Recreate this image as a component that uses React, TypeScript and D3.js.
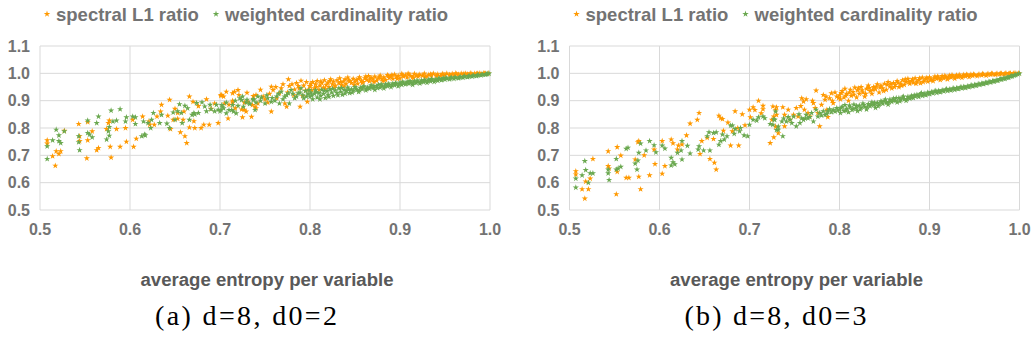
import React from "react";
import * as d3 from "d3";

// ---------- DATA ----------
type P = [number, number];

const xTicks = [0.5, 0.6, 0.7, 0.8, 0.9, 1.0];
const yTicks = [0.5, 0.6, 0.7, 0.8, 0.9, 1.0, 1.1];
const seriesNames = ["spectral L1 ratio", "weighted cardinality ratio"];
const seriesColors = ["#ff9900", "#6aa84f"];
const xTitle = "average entropy per variable";
const captions = ["(a) d=8, d0=2", "(b) d=8, d0=3"];

// panel (a) spectral L1 ratio
const aSpectral: P[] = [
  [0.508,0.755],[0.508,0.743],[0.514,0.697],[0.517,0.662],[0.518,0.715],[0.521,0.705],[0.523,0.715],[0.527,0.79],[0.543,0.815],[0.544,0.77],[0.544,0.752],[0.552,0.689],[0.553,0.755],[0.553,0.822],[0.558,0.788],[0.563,0.719],[0.565,0.727],[0.574,0.796],[0.576,0.818],[0.577,0.827],[0.578,0.731],[0.579,0.692],[0.585,0.796],[0.589,0.731],[0.595,0.8],[0.596,0.75],[0.604,0.731],[0.603,0.83],[0.607,0.761],[0.614,0.842],[0.621,0.824],[0.622,0.812],[0.627,0.812],[0.63,0.842],[0.635,0.885],[0.642,0.845],[0.644,0.903],[0.645,0.796],[0.648,0.83],[0.653,0.834],[0.653,0.855],[0.656,0.784],[0.661,0.77],[0.663,0.745],[0.659,0.83],[0.666,0.915],[0.666,0.802],[0.67,0.896],[0.672,0.8],[0.671,0.825],[0.679,0.8],[0.682,0.812],[0.685,0.905],[0.688,0.812],[0.698,0.818],[0.701,0.918],
  [0.634,0.86],[0.65,0.87],[0.676,0.88],[0.69,0.87],[0.694,0.89],[0.66,0.86],
  [0.701,0.921],[0.705,0.89],[0.709,0.835],[0.714,0.927],[0.716,0.933],[0.714,0.9],[0.724,0.868],[0.727,0.893],[0.729,0.86],[0.735,0.841],[0.739,0.878],[0.74,0.921],[0.742,0.89],[0.75,0.905],[0.753,0.893],[0.757,0.951],[0.757,0.86],[0.759,0.939],[0.763,0.909],[0.766,0.927],[0.772,0.89],[0.776,0.978],[0.777,0.954],[0.774,0.878],[0.783,0.941],[0.787,0.954],[0.789,0.878],[0.79,0.973],[0.792,0.917],[0.795,0.937],[0.797,0.896],[0.8,0.954],
  [0.702,0.921],[0.704,0.915],[0.707,0.933],[0.71,0.885],[0.714,0.893],[0.717,0.872],[0.72,0.939],[0.721,0.921],[0.725,0.839],[0.727,0.867],[0.73,0.929],[0.731,0.896],[0.736,0.884],[0.737,0.917],[0.74,0.872],
  [0.745,0.94],[0.748,0.915],[0.755,0.925],[0.762,0.95],[0.768,0.945],[0.77,0.96],[0.775,0.93],[0.78,0.96],[0.782,0.92],[0.785,0.965],[0.788,0.945],[0.793,0.955],[0.796,0.968],[0.798,0.94],
  [0.8,0.952],[0.802,0.938],[0.803,0.968],[0.805,0.945],[0.806,0.96],[0.808,0.972],[0.81,0.94],[0.811,0.955],[0.813,0.965],[0.815,0.948],[0.816,0.975],[0.818,0.958],[0.82,0.966],[0.821,0.95],[0.823,0.978],[0.825,0.96],[0.826,0.97],[0.828,0.955],[0.83,0.975],[0.832,0.964],[0.833,0.982],[0.835,0.958],[0.837,0.97],[0.839,0.978],[0.84,0.962],[0.842,0.985],[0.844,0.972],[0.846,0.965],[0.848,0.98],[0.85,0.97],[0.852,0.976],[0.853,0.962],[0.855,0.986],[0.857,0.974],[0.859,0.968],[0.861,0.982],[0.863,0.976],[0.865,0.99],[0.866,0.971],[0.868,0.984],[0.87,0.978],[0.872,0.988],[0.874,0.973],[0.876,0.982],[0.878,0.992],[0.88,0.979],[0.882,0.986],[0.884,0.976],[0.886,0.994],[0.888,0.983],[0.89,0.989],[0.892,0.98],[0.894,0.996],[0.896,0.986],[0.898,0.991],[0.9,0.982],[0.902,0.998],[0.904,0.988],[0.906,0.993],[0.908,0.985],[0.91,0.996],[0.912,0.99],[0.914,0.986],[0.916,0.998],[0.918,0.992],[0.92,0.988],[0.922,0.996],[0.925,0.991],[0.927,0.999],[0.93,0.989],[0.932,0.995],[0.935,0.992],[0.937,0.999],[0.94,0.993],[0.942,0.997],[0.945,0.991],[0.947,0.998],[0.95,0.994],[0.952,0.999],[0.955,0.995],[0.958,0.998],[0.96,0.993],[0.962,1.0],[0.965,0.996],[0.968,0.999],[0.97,0.995],[0.973,0.999],[0.975,0.997],[0.978,1.0],[0.98,0.996],[0.983,0.999],[0.985,0.998],[0.988,1.0],[0.99,0.998],[0.993,1.0],[0.995,0.999],[0.998,1.0],
  [0.801,0.962],[0.807,0.95],[0.812,0.97],[0.817,0.944],[0.822,0.972],[0.827,0.948],[0.834,0.968],[0.838,0.953],[0.843,0.975],[0.849,0.958],[0.854,0.98],[0.858,0.965],[0.862,0.988],[0.867,0.98],[0.871,0.968],[0.877,0.986],[0.881,0.972],[0.887,0.99],[0.891,0.994],[0.897,0.98],[0.903,0.992],[0.909,0.999],[0.915,0.983],[0.921,0.993],[0.928,0.987],[0.934,0.997],[0.941,0.99],[0.948,0.995],[0.956,0.992],[0.963,0.997],[0.971,0.998],[0.979,0.998],[0.986,0.999],[0.994,0.999],
];

// panel (a) weighted cardinality ratio
const aWeighted: P[] = [
  [0.508,0.687],[0.508,0.733],[0.514,0.755],[0.518,0.794],[0.521,0.773],[0.521,0.752],[0.523,0.745],[0.527,0.788],[0.543,0.748],[0.543,0.77],[0.544,0.719],[0.553,0.827],[0.553,0.782],[0.555,0.776],[0.558,0.766],[0.563,0.818],[0.565,0.842],[0.574,0.758],[0.576,0.788],[0.577,0.772],[0.577,0.804],[0.579,0.864],[0.581,0.824],[0.585,0.827],[0.589,0.869],[0.595,0.824],[0.596,0.839],[0.603,0.842],[0.606,0.839],[0.606,0.815],[0.615,0.824],[0.613,0.77],[0.616,0.776],[0.617,0.773],[0.62,0.818],[0.624,0.83],[0.626,0.855],[0.623,0.8],[0.635,0.848],[0.633,0.818],[0.641,0.816],[0.644,0.8],[0.648,0.857],[0.65,0.83],[0.653,0.861],[0.655,0.887],[0.657,0.855],[0.658,0.818],[0.661,0.881],[0.664,0.872],[0.666,0.83],[0.669,0.848],[0.671,0.855],[0.672,0.85],[0.674,0.891],[0.676,0.855],[0.68,0.894],[0.683,0.879],[0.685,0.861],[0.689,0.885],[0.69,0.869],[0.694,0.861],[0.696,0.885],[0.698,0.867],[0.7,0.861],
  [0.701,0.866],[0.703,0.878],[0.707,0.854],[0.713,0.866],[0.714,0.884],[0.718,0.854],[0.724,0.902],[0.726,0.878],[0.729,0.893],[0.733,0.888],[0.737,0.902],[0.739,0.866],[0.74,0.893],[0.742,0.915],[0.746,0.912],[0.75,0.89],[0.753,0.909],[0.757,0.896],[0.763,0.915],[0.766,0.89],[0.768,0.933],[0.772,0.915],[0.776,0.927],[0.777,0.89],[0.779,0.939],[0.783,0.909],[0.787,0.927],[0.79,0.945],[0.793,0.909],[0.796,0.915],[0.799,0.939],
  [0.702,0.884],[0.704,0.872],[0.707,0.893],[0.71,0.866],[0.715,0.86],[0.717,0.9],[0.72,0.881],[0.722,0.909],[0.725,0.915],[0.73,0.903],[0.733,0.89],[0.737,0.906],
  [0.745,0.9],[0.752,0.92],[0.758,0.91],[0.761,0.9],[0.765,0.925],[0.77,0.905],[0.774,0.92],[0.781,0.925],[0.785,0.915],[0.789,0.93],[0.792,0.92],[0.795,0.935],[0.798,0.925],
  [0.8,0.915],[0.801,0.93],[0.803,0.905],[0.805,0.925],[0.806,0.938],[0.808,0.912],[0.81,0.928],[0.812,0.918],[0.813,0.94],[0.815,0.925],[0.817,0.91],[0.819,0.935],[0.82,0.922],[0.822,0.942],[0.824,0.93],[0.826,0.918],[0.828,0.938],[0.83,0.928],[0.832,0.945],[0.834,0.933],[0.836,0.922],[0.838,0.94],[0.84,0.935],[0.842,0.948],[0.844,0.928],[0.846,0.942],[0.848,0.937],[0.85,0.95],[0.852,0.94],[0.854,0.932],[0.856,0.947],[0.858,0.942],[0.86,0.953],[0.862,0.938],[0.864,0.948],[0.866,0.944],[0.868,0.956],[0.87,0.946],[0.872,0.94],[0.874,0.952],[0.876,0.958],[0.878,0.948],[0.88,0.955],[0.882,0.945],[0.884,0.96],[0.886,0.953],[0.888,0.958],[0.89,0.95],[0.892,0.963],[0.894,0.956],[0.896,0.961],[0.898,0.953],[0.9,0.966],[0.902,0.958],[0.904,0.964],[0.906,0.96],[0.908,0.969],[0.91,0.962],[0.912,0.967],[0.914,0.958],[0.916,0.971],[0.918,0.965],[0.92,0.97],[0.922,0.963],[0.924,0.974],[0.926,0.968],[0.928,0.972],[0.93,0.966],[0.932,0.977],[0.934,0.971],[0.936,0.975],[0.938,0.969],[0.94,0.978],[0.942,0.973],[0.944,0.979],[0.946,0.975],[0.948,0.982],[0.95,0.977],[0.952,0.981],[0.955,0.978],[0.957,0.985],[0.96,0.98],[0.962,0.984],[0.965,0.982],[0.967,0.987],[0.97,0.984],[0.972,0.989],[0.975,0.986],[0.977,0.99],[0.98,0.988],[0.982,0.992],[0.985,0.99],[0.987,0.994],[0.99,0.993],[0.992,0.996],[0.995,0.995],[0.997,0.998],[0.999,0.999],
  [0.802,0.92],[0.807,0.932],[0.811,0.905],[0.816,0.936],[0.821,0.914],[0.825,0.944],[0.831,0.92],[0.835,0.946],[0.839,0.926],[0.843,0.94],[0.847,0.93],[0.851,0.944],[0.855,0.938],[0.859,0.95],[0.863,0.943],[0.867,0.951],[0.871,0.954],[0.875,0.946],[0.879,0.96],[0.883,0.952],[0.887,0.962],[0.891,0.957],[0.895,0.965],[0.899,0.96],[0.903,0.969],[0.907,0.963],[0.911,0.972],[0.915,0.966],[0.919,0.974],[0.923,0.968],[0.927,0.976],[0.931,0.972],[0.935,0.979],[0.939,0.975],[0.943,0.981],[0.947,0.978],[0.951,0.984],[0.956,0.982],[0.961,0.986],[0.966,0.985],[0.971,0.988],[0.976,0.989],[0.981,0.991],[0.986,0.993],[0.991,0.995],[0.996,0.997],
];

// panel (b) spectral L1 ratio
const bSpectral: P[] = [
  [0.507,0.642],[0.507,0.63],[0.514,0.576],[0.517,0.542],[0.518,0.604],[0.521,0.576],[0.523,0.615],[0.526,0.687],[0.543,0.715],[0.543,0.661],[0.544,0.652],[0.552,0.558],[0.553,0.64],[0.553,0.73],[0.557,0.699],[0.563,0.618],[0.566,0.618],[0.573,0.685],[0.576,0.748],[0.577,0.752],[0.577,0.622],[0.579,0.576],[0.583,0.7],[0.589,0.627],[0.594,0.721],[0.595,0.668],[0.603,0.633],[0.603,0.752],[0.606,0.661],[0.613,0.758],[0.615,0.744],[0.62,0.721],[0.621,0.736],[0.625,0.74],[0.63,0.773],[0.634,0.816],[0.642,0.83],[0.644,0.855],[0.645,0.705],[0.647,0.752],[0.653,0.764],[0.656,0.687],[0.661,0.673],[0.663,0.648],[0.666,0.845],[0.668,0.836],[0.67,0.833],[0.671,0.79],[0.679,0.736],[0.681,0.788],[0.684,0.861],[0.688,0.736],[0.695,0.81],[0.7,0.867],
  [0.687,0.8],[0.692,0.85],[0.676,0.82],[0.66,0.76],
  [0.701,0.839],[0.704,0.876],[0.706,0.866],[0.71,0.9],[0.715,0.881],[0.715,0.869],[0.713,0.854],[0.725,0.83],[0.729,0.866],[0.73,0.876],[0.729,0.805],[0.723,0.745],[0.727,0.766],[0.732,0.781],
  [0.726,0.879],[0.727,0.842],[0.73,0.848],[0.737,0.876],[0.739,0.848],[0.739,0.806],[0.743,0.867],[0.745,0.83],[0.749,0.848],[0.752,0.873],[0.754,0.842],[0.758,0.909],[0.76,0.897],[0.761,0.867],[0.763,0.905],[0.765,0.855],[0.767,0.842],[0.771,0.891],[0.773,0.873],[0.774,0.937],[0.776,0.855],[0.778,0.806],[0.78,0.885],[0.782,0.921],[0.784,0.903],[0.786,0.867],[0.787,0.84],[0.789,0.909],[0.791,0.927],[0.793,0.891],[0.797,0.915],
  [0.792,0.9],[0.795,0.93],[0.799,0.91],[0.785,0.915],[0.77,0.9],[0.757,0.88],
  [0.8,0.92],[0.801,0.905],[0.803,0.935],[0.805,0.912],[0.806,0.944],[0.808,0.925],[0.81,0.9],[0.812,0.94],[0.813,0.918],[0.815,0.932],[0.817,0.948],[0.819,0.912],[0.82,0.938],[0.822,0.925],[0.824,0.95],[0.826,0.93],[0.828,0.915],[0.83,0.944],[0.832,0.955],[0.834,0.935],[0.836,0.925],[0.838,0.95],[0.84,0.942],[0.842,0.96],[0.844,0.93],[0.846,0.955],[0.848,0.945],[0.85,0.962],[0.852,0.94],[0.854,0.968],[0.856,0.952],[0.858,0.945],[0.86,0.965],[0.862,0.958],[0.864,0.972],[0.866,0.95],[0.868,0.962],[0.87,0.975],[0.872,0.958],[0.874,0.968],[0.876,0.98],[0.878,0.962],[0.88,0.972],[0.882,0.966],[0.884,0.982],[0.886,0.97],[0.888,0.976],[0.89,0.964],[0.892,0.985],[0.894,0.974],[0.896,0.98],[0.898,0.97],[0.9,0.986],[0.902,0.977],[0.904,0.972],[0.906,0.988],[0.908,0.98],[0.91,0.985],[0.912,0.976],[0.914,0.99],[0.916,0.982],[0.918,0.987],[0.92,0.978],[0.922,0.992],[0.924,0.985],[0.926,0.989],[0.928,0.981],[0.93,0.993],[0.932,0.987],[0.934,0.99],[0.936,0.984],[0.938,0.995],[0.94,0.989],[0.942,0.993],[0.944,0.987],[0.946,0.996],[0.948,0.991],[0.95,0.994],[0.953,0.99],[0.955,0.997],[0.958,0.993],[0.96,0.996],[0.963,0.992],[0.965,0.998],[0.968,0.995],[0.97,0.998],[0.973,0.995],[0.975,0.999],[0.978,0.997],[0.98,0.999],[0.983,0.997],[0.985,1.0],[0.988,0.998],[0.99,1.0],[0.993,0.999],[0.996,1.0],[0.999,1.0],
  [0.802,0.928],[0.807,0.918],[0.811,0.93],[0.816,0.922],[0.821,0.945],[0.825,0.938],[0.829,0.925],[0.833,0.946],[0.837,0.94],[0.841,0.952],[0.845,0.948],[0.849,0.935],[0.853,0.958],[0.857,0.962],[0.861,0.95],[0.865,0.966],[0.869,0.955],[0.873,0.978],[0.877,0.97],[0.881,0.978],[0.885,0.962],[0.889,0.982],[0.893,0.968],[0.897,0.984],[0.901,0.975],[0.905,0.982],[0.909,0.988],[0.913,0.982],[0.917,0.991],[0.921,0.985],[0.925,0.994],[0.929,0.988],[0.933,0.995],[0.937,0.99],[0.941,0.996],[0.945,0.992],[0.949,0.997],[0.954,0.994],[0.959,0.998],[0.964,0.996],[0.969,0.999],[0.974,0.997],[0.979,0.999],[0.984,0.999],[0.989,0.999],[0.994,1.0],
];

// panel (b) weighted cardinality ratio
const bWeighted: P[] = [
  [0.507,0.582],[0.507,0.615],[0.514,0.627],[0.517,0.679],[0.518,0.646],[0.521,0.6],[0.523,0.634],[0.526,0.634],[0.543,0.634],[0.543,0.648],[0.544,0.61],[0.552,0.687],[0.552,0.648],[0.554,0.652],[0.557,0.658],[0.563,0.724],[0.565,0.728],[0.573,0.67],[0.575,0.648],[0.576,0.681],[0.577,0.709],[0.579,0.743],[0.585,0.718],[0.589,0.752],[0.594,0.737],[0.596,0.711],[0.603,0.736],[0.606,0.725],[0.613,0.691],[0.613,0.663],[0.615,0.675],[0.617,0.667],[0.62,0.709],[0.624,0.718],[0.625,0.685],[0.625,0.752],[0.631,0.735],[0.634,0.707],[0.643,0.721],[0.644,0.733],[0.649,0.718],[0.653,0.77],[0.655,0.784],[0.656,0.718],[0.66,0.782],[0.663,0.784],[0.666,0.739],[0.668,0.752],[0.67,0.776],[0.672,0.758],[0.675,0.77],[0.679,0.809],[0.681,0.809],[0.683,0.779],[0.684,0.796],[0.689,0.788],[0.69,0.8],[0.694,0.773],[0.698,0.77],[0.7,0.812],
  [0.726,0.812],[0.728,0.83],[0.732,0.794],[0.736,0.824],[0.737,0.77],[0.741,0.824],[0.743,0.84],[0.747,0.818],[0.749,0.842],[0.752,0.806],[0.756,0.818],[0.758,0.836],[0.76,0.83],[0.763,0.848],[0.765,0.836],[0.767,0.84],[0.771,0.824],[0.774,0.867],[0.776,0.842],[0.778,0.855],[0.782,0.861],[0.784,0.848],[0.787,0.861],[0.789,0.869],[0.793,0.867],[0.797,0.873],
  [0.704,0.83],[0.708,0.827],[0.71,0.839],[0.715,0.842],[0.717,0.836],[0.723,0.815],[0.727,0.832],[0.729,0.86],[0.73,0.793],[0.732,0.805],
  [0.738,0.835],[0.745,0.83],[0.755,0.85],[0.762,0.835],[0.769,0.855],[0.78,0.846],[0.786,0.852],[0.791,0.858],[0.795,0.86],[0.798,0.865],
  [0.8,0.868],[0.801,0.855],[0.803,0.878],[0.805,0.862],[0.806,0.884],[0.808,0.87],[0.81,0.858],[0.812,0.876],[0.814,0.866],[0.816,0.886],[0.818,0.872],[0.82,0.862],[0.822,0.882],[0.824,0.874],[0.826,0.89],[0.828,0.878],[0.83,0.868],[0.832,0.888],[0.834,0.88],[0.836,0.894],[0.838,0.884],[0.84,0.874],[0.842,0.892],[0.844,0.886],[0.846,0.898],[0.848,0.889],[0.85,0.9],[0.852,0.892],[0.854,0.886],[0.856,0.904],[0.858,0.896],[0.86,0.908],[0.862,0.9],[0.864,0.894],[0.866,0.91],[0.868,0.903],[0.87,0.912],[0.872,0.905],[0.874,0.9],[0.876,0.914],[0.878,0.908],[0.88,0.918],[0.882,0.91],[0.884,0.916],[0.886,0.922],[0.888,0.914],[0.89,0.924],[0.892,0.918],[0.894,0.926],[0.896,0.92],[0.898,0.93],[0.9,0.924],[0.902,0.932],[0.904,0.927],[0.906,0.934],[0.908,0.929],[0.91,0.936],[0.912,0.931],[0.914,0.938],[0.916,0.934],[0.918,0.94],[0.92,0.936],[0.922,0.942],[0.924,0.938],[0.926,0.944],[0.928,0.94],[0.93,0.946],[0.932,0.943],[0.934,0.948],[0.936,0.945],[0.938,0.951],[0.94,0.947],[0.942,0.953],[0.944,0.95],[0.946,0.955],[0.948,0.952],[0.95,0.958],[0.952,0.955],[0.954,0.961],[0.956,0.958],[0.958,0.963],[0.96,0.961],[0.962,0.966],[0.964,0.964],[0.966,0.969],[0.968,0.967],[0.97,0.972],[0.972,0.97],[0.974,0.975],[0.976,0.973],[0.978,0.978],[0.98,0.977],[0.982,0.981],[0.984,0.98],[0.986,0.984],[0.988,0.984],[0.99,0.988],[0.992,0.989],[0.994,0.992],[0.996,0.994],[0.998,0.997],[1.0,0.999],
  [0.802,0.874],[0.807,0.864],[0.811,0.882],[0.815,0.87],[0.819,0.88],[0.823,0.868],[0.827,0.884],[0.831,0.876],[0.835,0.886],[0.839,0.892],[0.843,0.88],[0.847,0.895],[0.851,0.904],[0.855,0.895],[0.859,0.902],[0.863,0.91],[0.867,0.898],[0.871,0.915],[0.875,0.906],[0.879,0.912],[0.883,0.92],[0.887,0.918],[0.891,0.928],[0.895,0.922],[0.899,0.926],[0.903,0.93],[0.907,0.936],[0.911,0.933],[0.915,0.937],[0.919,0.943],[0.923,0.94],[0.927,0.945],[0.931,0.944],[0.935,0.95],[0.939,0.948],[0.943,0.951],[0.947,0.956],[0.951,0.956],[0.955,0.96],[0.959,0.962],[0.963,0.965],[0.967,0.968],[0.971,0.971],[0.975,0.974],[0.979,0.979],[0.983,0.982],[0.987,0.986],[0.991,0.99],[0.995,0.994],
];

// ---------- CHART ----------
const FONT = "'Liberation Sans', Arial, sans-serif";
const star = d3.symbol().type(d3.symbolStar).size(12)();
const legendStar = d3.symbol().type(d3.symbolStar).size(13)();

function Panel({ left, series, caption }: { left: number; series: P[][]; caption: string }) {
  const x = d3.scaleLinear().domain([0.5, 1.0]).range([left, left + 450]);
  const y = d3.scaleLinear().domain([0.5, 1.1]).range([210, 46]);
  const cx = (x.range()[0] + x.range()[1]) / 2;
  return (
    <g>
      {/* grid */}
      {xTicks.map((t) => (
        <line key={"gx" + t} x1={x(t)} x2={x(t)} y1={y(0.5)} y2={y(1.1)} stroke="#d9d9d9" strokeWidth={1} />
      ))}
      {yTicks.map((t) => (
        <line key={"gy" + t} x1={x(0.5)} x2={x(1.0)} y1={y(t)} y2={y(t)} stroke="#d9d9d9" strokeWidth={1} />
      ))}
      {/* y labels */}
      {yTicks.map((t) => (
        <text key={"ly" + t} x={x(0.5) - 10} y={y(t)} dy="0.36em" textAnchor="end"
          fontFamily={FONT} fontWeight={700} fontSize={16} fill="#737373">
          {d3.format(".1f")(t)}
        </text>
      ))}
      {/* x labels */}
      {xTicks.map((t) => (
        <text key={"lx" + t} x={x(t)} y={234.5} textAnchor="middle"
          fontFamily={FONT} fontWeight={700} fontSize={16} fill="#737373">
          {d3.format(".1f")(t)}
        </text>
      ))}
      {/* points */}
      {series.map((s, si) => (
        <g key={"s" + si} fill={seriesColors[si]}>
          {s.map((p, i) => (
            <path key={i} d={star as string} transform={`translate(${x(p[0])},${y(p[1])})`} />
          ))}
        </g>
      ))}
      {/* legend */}
      <g>
        <path d={legendStar as string} fill={seriesColors[0]} transform={`translate(${left + 7},14)`} />
        <text x={left + 16} y={20.5} fontFamily={FONT} fontWeight={700} fontSize={18.5} fill="#737373">
          {seriesNames[0]}
        </text>
        <path d={legendStar as string} fill={seriesColors[1]} transform={`translate(${left + 176},14)`} />
        <text x={left + 185} y={20.5} fontFamily={FONT} fontWeight={700} fontSize={18.5} fill="#737373">
          {seriesNames[1]}
        </text>
      </g>
      {/* axis title */}
      <text x={cx + 2} y={285.5} textAnchor="middle" fontFamily={FONT} fontWeight={700} fontSize={17.5}
        textLength={253} lengthAdjust="spacingAndGlyphs" fill="#595959">
        {xTitle}
      </text>
      {/* caption */}
      <text x={cx - 19} y={325} textAnchor="middle" fontFamily="'Liberation Serif', serif" fontSize={28}
        textLength={182} lengthAdjust="spacing" fill="#000">
        {caption}
      </text>
    </g>
  );
}

export default function App() {
  return (
    <svg width={1033} height={360} style={{ position: "absolute", left: 0, top: 0, background: "#fff" }}>
      <rect width={1033} height={360} fill="#fff" />
      <Panel left={40} series={[aSpectral, aWeighted]} caption={captions[0]} />
      <Panel left={569.5} series={[bSpectral, bWeighted]} caption={captions[1]} />
    </svg>
  );
}
